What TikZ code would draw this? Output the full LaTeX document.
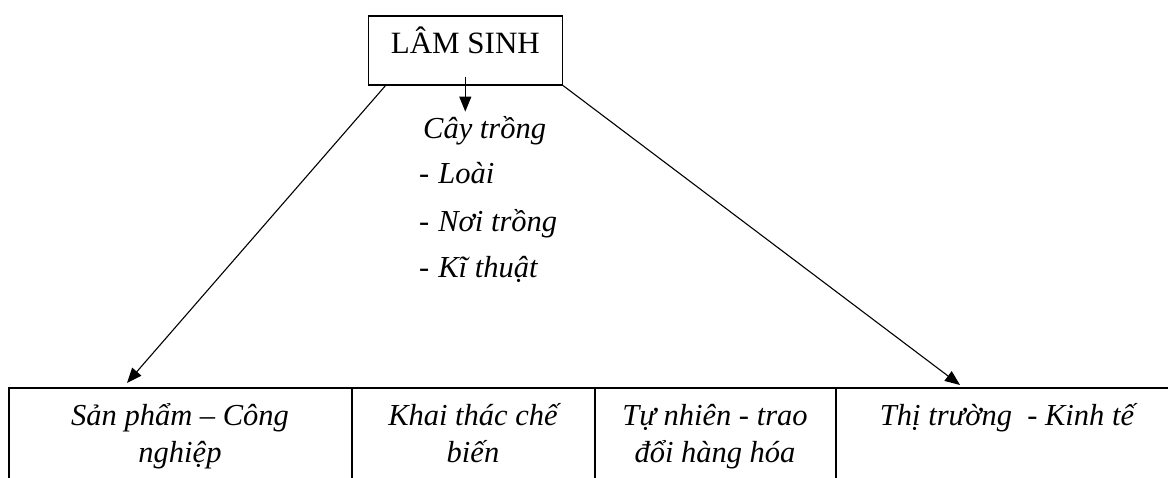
\documentclass[tikz,border=0pt]{standalone}
\usepackage{fontspec}
\setmainfont{Liberation Serif}
\usetikzlibrary{arrows.meta,calc}
\begin{document}
\begin{tikzpicture}[x=1pt,y=-1pt,
  txt/.style={font=\fontsize{30.5}{37}\selectfont\itshape, inner sep=0pt},
  cell/.style={txt, align=center, anchor=base},
  arr/.style={line width=1.1pt, -{Triangle[length=15pt,width=12pt]}},
  frame/.style={line width=1.6pt}]
\useasboundingbox (0,0) rectangle (1168,477);
\clip (0,0) rectangle (1168,477);
% top box
\node[draw, frame, minimum width=194pt, inner sep=0pt, text height=38pt, text depth=31pt,
      font=\fontsize{31}{37}\selectfont, anchor=north west] (lam) at (367.5,15) {LÂM SINH};
% list
\node[txt, anchor=base west] (cay) at (423,138) {Cây trồng};
\node[txt, anchor=base west] (l1) at (419,183) {-\hskip 9pt Loài};
\node[txt, anchor=base west] (l2) at (419,231) {-\hskip 9pt Nơi trồng};
\node[txt, anchor=base west] (l3) at (419,277) {-\hskip 9pt Kĩ thuật};
% table
\draw[frame] (1170,388) -- (9,388) -- (9,480);
\draw[frame] (352,388) -- (352,480);
\draw[frame] (595,388) -- (595,480);
\draw[frame] (836,388) -- (836,480);
\node[cell] (c1) at (180,462) {Sản phẩm – Công\\nghiệp};
\node[cell] (c2) at (473,462) {Khai thác chế\\biến};
\node[cell] (c3) at (715,462) {Tự nhiên - trao\\đổi hàng hóa};
\node[cell] (c4) at (1007,425) {Thị trường~~- Kinh tế};
% arrows
\coordinate (t1) at (127,383);
\coordinate (t2) at (960,385);
\draw[arr] ($(lam.south west)+(18,0)$) -- (t1);
\draw[arr] (lam.south east) -- (t2);
\draw[arr] ($(lam.south)+(0,-9)$) -- ($(lam.south)+(0,26)$);
\end{tikzpicture}
\end{document}
